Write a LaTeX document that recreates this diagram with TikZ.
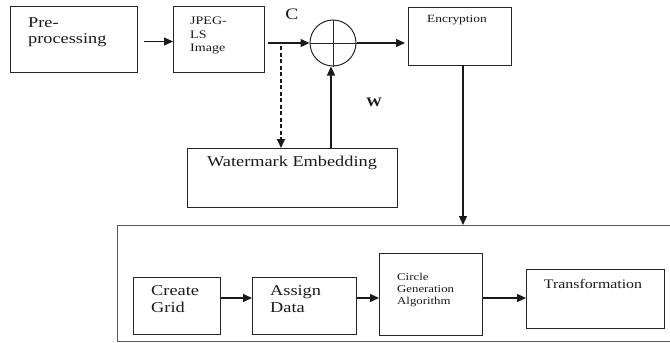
\documentclass[tikz,border=0pt]{standalone}
\usepackage{fontspec}
\setmainfont{Liberation Serif}[FakeStretch=1.22]
\usetikzlibrary{arrows.meta,calc}
\begin{document}
\begin{tikzpicture}[x=1pt,y=-1pt,
  box/.style={draw=black!85,line width=1pt,rectangle,inner sep=0pt,anchor=north west},
  arr/.style={line width=1.2pt,draw=black!90,-{Triangle[length=9pt,width=8pt]}},
  txt/.style={inner sep=0pt,align=left,text=black!90}]
\useasboundingbox (0,0) rectangle (670,343);
% top row
\node[box,minimum width=127pt,minimum height=66pt] (pre) at (10,6) {};
\node[box,minimum width=91pt,minimum height=66pt] (jpeg) at (173,6) {};
\node[draw=black!85,line width=1pt,circle,minimum size=46pt,inner sep=0pt] (xor) at (333,43) {};
\draw[line width=0.9pt,black!85] (xor.north) -- (xor.south);
\draw[line width=0.9pt,black!85] (xor.west) -- (xor.east);
\node[box,minimum width=103pt,minimum height=58pt] (enc) at (408,7) {};
\node[box,minimum width=210pt,minimum height=59pt] (wm) at (187,148) {};
% texts
\node[txt,anchor=north west,font=\fontsize{15}{16}\selectfont] (tpre) at (28,17) {Pre-\\processing};
\node[txt,anchor=north west,font=\fontsize{11.5}{13.5}\selectfont] (tjpeg) at (190,17) {JPEG-\\LS\\Image};
\node[txt,anchor=north,font=\fontsize{11}{13}\selectfont] (tenc) at (457,15) {Encryption};
\node[txt,anchor=north,font=\fontsize{15}{16}\selectfont] (twm) at (292,156) {Watermark Embedding};
\node[txt,font=\fontsize{16}{18}\selectfont] (lc) at (292,14) {C};
\node[txt,font=\bfseries\fontsize{13}{15}\selectfont] (lw) at (374,102) {W};
% top connectors
\draw[arr] ([xshift=6pt,yshift=-2pt]pre.east) -- ([yshift=-2pt]jpeg.west);
\draw[arr] ([xshift=3pt]jpeg.east |- xor.west) -- (xor.west);
\coordinate (dtop) at (281,46);
\draw[arr,line width=1.5pt,dash pattern=on 4pt off 2.5pt] (dtop) -- (dtop |- wm.north);
\coordinate (wup) at (331,148);
\draw[arr] (wup) -- (wup |- xor.south);
\draw[arr,shorten >=3pt] (xor.east) -- (enc.west |- xor.east);
% bottom big box
\node[box,draw=black!65,line width=1.4pt,minimum width=560pt,minimum height=116pt] (big) at (117,225) {};
\coordinate (down) at (463,65);
\draw[arr] (down) -- (down |- big.north);
\node[box,minimum width=87pt,minimum height=57pt] (cg) at (133,277) {};
\node[box,minimum width=104pt,minimum height=57pt] (ad) at (252,277) {};
\node[box,minimum width=103pt,minimum height=82pt] (cga) at (379,253) {};
\node[box,minimum width=138pt,minimum height=59pt] (tr) at (526,269) {};
\node[txt,anchor=north west,font=\fontsize{15}{17}\selectfont] (tcg) at (151,285) {Create\\Grid};
\node[txt,anchor=north west,font=\fontsize{15}{17}\selectfont] (tad) at (270,285) {Assign\\Data};
\node[txt,anchor=north west,font=\fontsize{10.5}{12}\selectfont] (tcga) at (397,273) {Circle\\Generation\\Algorithm};
\node[txt,anchor=north,font=\fontsize{13}{15}\selectfont] (ttr) at (593,279) {Transformation};
\coordinate (row) at (0,298);
\draw[arr] (cg.east |- row) -- (ad.west |- row);
\draw[arr] (ad.east |- row) -- (cga.west |- row);
\draw[arr] (cga.east |- row) -- (tr.west |- row);
\end{tikzpicture}
\end{document}
